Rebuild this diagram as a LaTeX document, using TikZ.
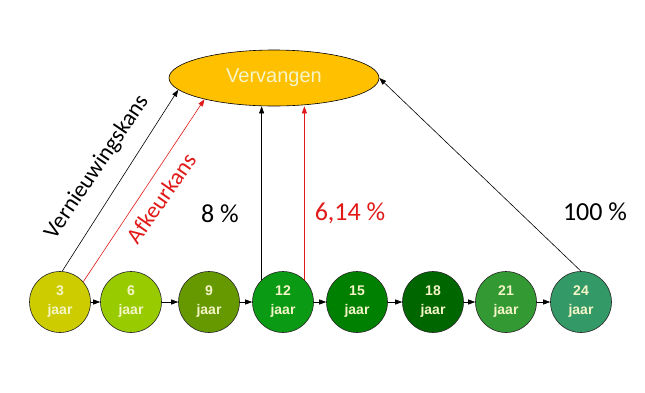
\documentclass[tikz,border=0pt]{standalone}
\usepackage{fontspec}
\setmainfont{Liberation Sans}
\newfontfamily\calfont[Ligatures=NoCommon]{Carlito}
\usetikzlibrary{arrows.meta,shapes.geometric}
\definecolor{cA}{RGB}{204,204,0}
\definecolor{cB}{RGB}{153,204,0}
\definecolor{cC}{RGB}{102,153,0}
\definecolor{cD}{RGB}{10,154,20}
\definecolor{cE}{RGB}{0,128,0}
\definecolor{cF}{RGB}{0,102,0}
\definecolor{cG}{RGB}{51,153,51}
\definecolor{cH}{RGB}{51,153,102}
\definecolor{cream}{RGB}{245,245,200}
\definecolor{gold}{RGB}{255,192,0}
\definecolor{lblred}{RGB}{225,25,25}
\begin{document}
\begin{tikzpicture}[x=1pt,y=-1pt,
  stage/.style={circle, draw=black!85, line width=0.6pt, minimum size=61pt, inner sep=0pt,
    text=cream, font=\fontsize{14}{19}\selectfont\bfseries, align=center},
  arr/.style={-{Triangle[length=7pt,width=5pt]}, line width=0.6pt},
  lbl/.style={font=\calfont\fontsize{23}{28}\selectfont, inner sep=0pt},
  pct/.style={font=\calfont\fontsize{26}{30}\selectfont, inner sep=0pt}]
\useasboundingbox (0,0) rectangle (645,392);

\node[ellipse, draw=black, line width=0.6pt, fill=gold, minimum width=210pt, minimum height=56pt,
  inner sep=0pt, text=cream, font=\fontsize{20}{24}\selectfont] (E) at (274,78) {Vervangen};

\node[stage, fill=cA] (c1) at (60,302) {3\\jaar};
\node[stage, fill=cB] (c2) at (131,302) {6\\jaar};
\node[stage, fill=cC] (c3) at (209,302) {9\\jaar};
\node[stage, fill=cD] (c4) at (283,302) {12\\jaar};
\node[stage, fill=cE] (c5) at (357,302) {15\\jaar};
\node[stage, fill=cF] (c6) at (433,302) {18\\jaar};
\node[stage, fill=cG] (c7) at (506,302) {21\\jaar};
\node[stage, fill=cH] (c8) at (581,302) {24\\jaar};

\foreach \a/\b in {c1/c2,c2/c3,c3/c4,c4/c5,c5/c6,c6/c7,c7/c8}
  \draw[arr] (\a.east) -- (\b.west);

\draw[arr] (c1.86) -- (E.187);
\draw[arr, lblred] (c1.41) -- (E.197);
\draw[arr] (c4.134) -- (c4.134 |- E.south);
\draw[arr, lblred] (c4.46) -- (c4.46 |- E.south);
\draw[arr] (c8.north) -- (E.east);

\node[lbl, rotate=56] (v) at (97,167) {Vernieuwingskans};
\node[lbl, rotate=55, text=lblred] (a) at (161,198) {Afkeurkans};
\node[pct] (p1) at (220,214) {8 \%};
\node[pct, text=lblred] (p2) at (350,213) {6,14 \%};
\node[pct] (p3) at (595,212) {100 \%};
\end{tikzpicture}
\end{document}
